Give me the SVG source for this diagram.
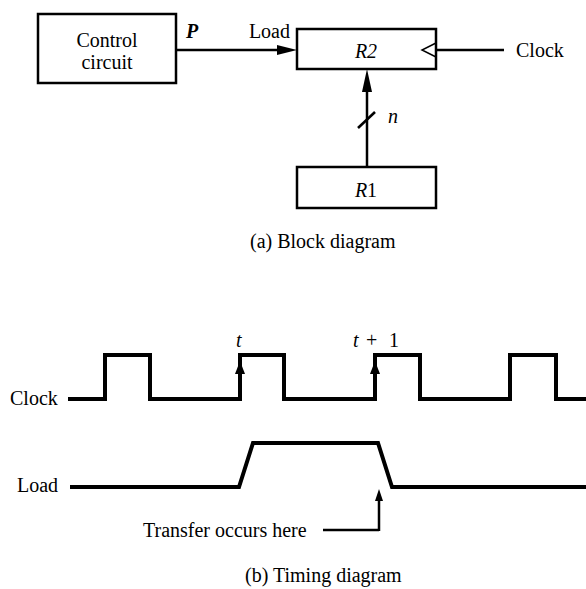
<svg xmlns="http://www.w3.org/2000/svg" width="586" height="589" viewBox="0 0 586 589">
<style>
text{font-family:"Liberation Serif","Times New Roman",serif;font-size:20px;fill:#000}
.it{font-style:italic}
.box{fill:#fff;stroke:#000;stroke-width:2.5}
.ln{fill:none;stroke:#000;stroke-width:2.5}
.wave{fill:none;stroke:#000;stroke-width:4;stroke-linejoin:miter}
.ah{fill:#000}
</style>
<rect width="586" height="589" fill="#fff"/>
<g id="control">
<rect class="box" x="38" y="14" width="138" height="69"/>
<text x="107" y="47" text-anchor="middle">Control</text>
<text x="107" y="69" text-anchor="middle">circuit</text>
</g>
<g id="r2">
<rect class="box" x="297" y="29" width="139" height="40"/>
<text x="366" y="58" text-anchor="middle" class="it">R2</text>
<polyline points="436,43 422,50 436,57" fill="none" stroke="#000" stroke-width="1.5"/>
</g>
<g id="r1">
<rect class="box" x="297" y="167" width="139" height="41"/>
<text x="366" y="197" text-anchor="middle"><tspan class="it">R</tspan>1</text>
</g>
<g id="connectors">
<line class="ln" x1="176" y1="50" x2="280" y2="50"/>
<polygon class="ah" points="297,50 277,45 277,55"/>
<line class="ln" x1="436" y1="50" x2="504" y2="50"/>
<line class="ln" x1="367" y1="167" x2="367" y2="88"/>
<polygon class="ah" points="367,69 362,92 372,92"/>
<line class="ln" x1="358" y1="128" x2="375" y2="112"/>
</g>
<g id="labels-a">
<text x="186" y="38" class="it" font-weight="bold">P</text>
<text x="290" y="38" text-anchor="end">Load</text>
<text x="516" y="57">Clock</text>
<text x="388" y="123" class="it">n</text>
<text x="250" y="248">(a) Block diagram</text>
</g>
<g id="timing">
<text x="10" y="405">Clock</text>
<polyline class="wave" points="68,399 105,399 105,355 150,355 150,399 240,399 240,355 284,355 284,399 375,399 375,355 420,355 420,399 510,399 510,355 556,355 556,399 586,399"/>
<polygon class="ah" points="240,361 235,374 245,374"/>
<polygon class="ah" points="375,361 370,374 380,374"/>
<text x="236" y="347" class="it">t</text>
<text x="353" y="347"><tspan class="it">t</tspan><tspan x="366">+</tspan><tspan x="389">1</tspan></text>
<text x="17" y="492">Load</text>
<polyline class="wave" points="70,487 239,487 253,443 378,443 392,487 586,487"/>
<line class="ln" x1="323" y1="530" x2="379" y2="530"/>
<line class="ln" x1="379" y1="531" x2="379" y2="498"/>
<polygon class="ah" points="379,489 375,501 383,501"/>
<text x="143" y="537">Transfer occurs here</text>
<text x="245" y="582">(b) Timing diagram</text>
</g>
</svg>
